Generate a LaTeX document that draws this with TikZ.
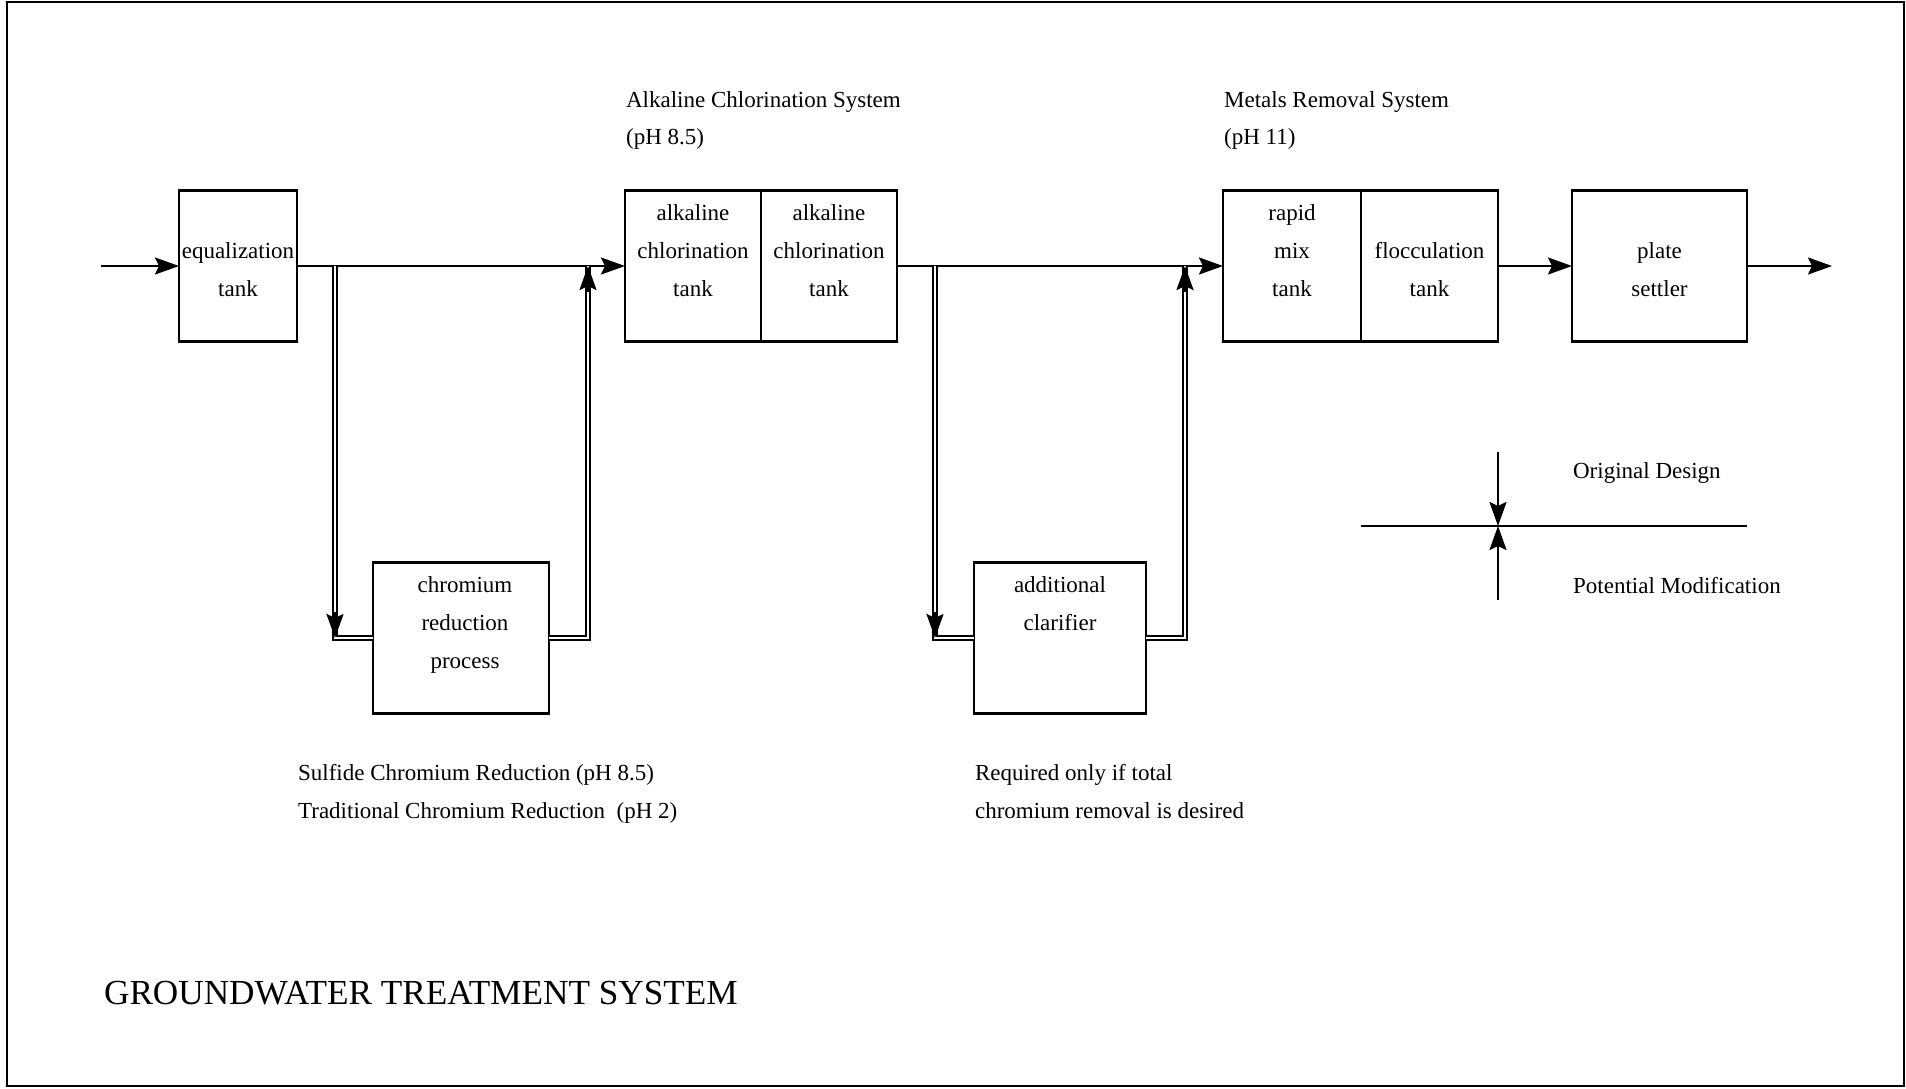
\documentclass[tikz,border=0pt]{standalone}
\usepackage{fontspec}
\setmainfont{Liberation Serif}
\usetikzlibrary{positioning,arrows.meta}

\begin{document}
\begin{tikzpicture}[x=0.5pt, y=-0.5pt, line width=1.1pt,
  font=\fontsize{11.5}{18.85}\selectfont,
  tank/.style={draw, shape=rectangle, minimum height=75.5pt, inner sep=0pt, outer sep=0pt},
  txt/.style={align=center, inner sep=0pt},
  note/.style={align=left, inner sep=0pt, anchor=north west},
  flow/.style={-{Stealth[length=12pt, width=8.5pt, inset=2pt]}},
  dbl/.style={double, double distance=1.4pt, line width=0.9pt}]
\useasboundingbox (0,0) rectangle (1906,1088);
\draw (7,2) rectangle (1904,1086);

% main train
\node[tank, minimum width=59pt] (eq) at (238,266) {};
\node[tank, minimum width=68pt] (alk1) at (693,266) {};
\node[tank, minimum width=68pt, right=0pt of alk1] (alk2) {};
\node[tank, minimum width=69pt] (mix) at (1292,266) {};
\node[tank, minimum width=68.5pt, right=0pt of mix] (floc) {};
\node[tank, minimum width=87.5pt] (plate) at (1659.5,266) {};
% side streams
\node[tank, minimum width=88pt] (chrom) at (461,638) {};
\node[tank, minimum width=86pt] (clar) at (1060,638) {};

\node[txt, below=25.5pt of eq.north] (eqtxt) {equalization\\tank};
\node[txt, below=6.7pt of alk1.north] (alk1txt) {alkaline\\chlorination\\tank};
\node[txt, below=6.7pt of alk2.north] (alk2txt) {alkaline\\chlorination\\tank};
\node[txt, below=6.7pt of mix.north] (mixtxt) {rapid\\mix\\tank};
\node[txt, below=25.5pt of floc.north] (flocxt) {flocculation\\tank};
\node[txt, below=25.5pt of plate.north] (platetxt) {plate\\settler};
\node[txt, below=6.7pt of chrom.north, xshift=2pt] (chromtxt) {chromium\\reduction\\process};
\node[txt, below=6.7pt of clar.north] (clartxt) {additional\\clarifier};

\coordinate (in) at (101,266);
\coordinate (out) at (1832,266);
\coordinate (s1) at (335,266);
\coordinate (j1) at (588,266);
\coordinate (s2) at (935,266);
\coordinate (j2) at (1185,266);
\coordinate (c1) at (s1 |- chrom.west);
\coordinate (c2) at (s2 |- clar.west);

\draw[flow] (in) -- (eq.west);
\draw[flow] (eq.east) -- (alk1.west);
\draw[flow] (alk2.east) -- (mix.west);
\draw[flow] (floc.east) -- (plate.west);
\draw[flow] (plate.east) -- (out);

\draw[dbl] (s1) |- (chrom.west);
\draw[dbl] (chrom.east) -| (j1);
\draw[dbl] (s2) |- (clar.west);
\draw[dbl] (clar.east) -| (j2);
\draw[flow] ([yshift=13pt]c1) -- (c1);
\draw[flow] ([yshift=-13pt]j1) -- (j1);
\draw[flow] ([yshift=13pt]c2) -- (c2);
\draw[flow] ([yshift=-13pt]j2) -- (j2);

% legend
\coordinate (lgl) at (1361,526);
\coordinate (lgr) at (1747,526);
\coordinate (lgc) at (1498,526);
\coordinate (lgt) at (1498,452);
\coordinate (lgb) at (1498,600);
\draw (lgl) -- (lgr);
\draw[flow] (lgt) -- (lgc);
\draw[flow] (lgb) -- (lgc);
\node[inner sep=0pt, anchor=west] (orig) at (1572,473) {Original Design};
\node[inner sep=0pt, anchor=west] (modif) at (1572,586) {Potential Modification};

\node[note] (alklbl) at (625,90) {Alkaline Chlorination System\\(pH 8.5)};
\node[note] (metlbl) at (1223,90) {Metals Removal System\\(pH 11)};
\node[note] (chromlbl) at (297,763) {Sulfide Chromium Reduction (pH 8.5)\\Traditional Chromium Reduction~~(pH 2)};
\node[note] (clarlbl) at (974,763) {Required only if total\\chromium removal is desired};

\node[inner sep=0pt, anchor=west, font=\fontsize{17.6}{20}\selectfont] (title) at (103,993) {GROUNDWATER TREATMENT SYSTEM};
\end{tikzpicture}
\end{document}
